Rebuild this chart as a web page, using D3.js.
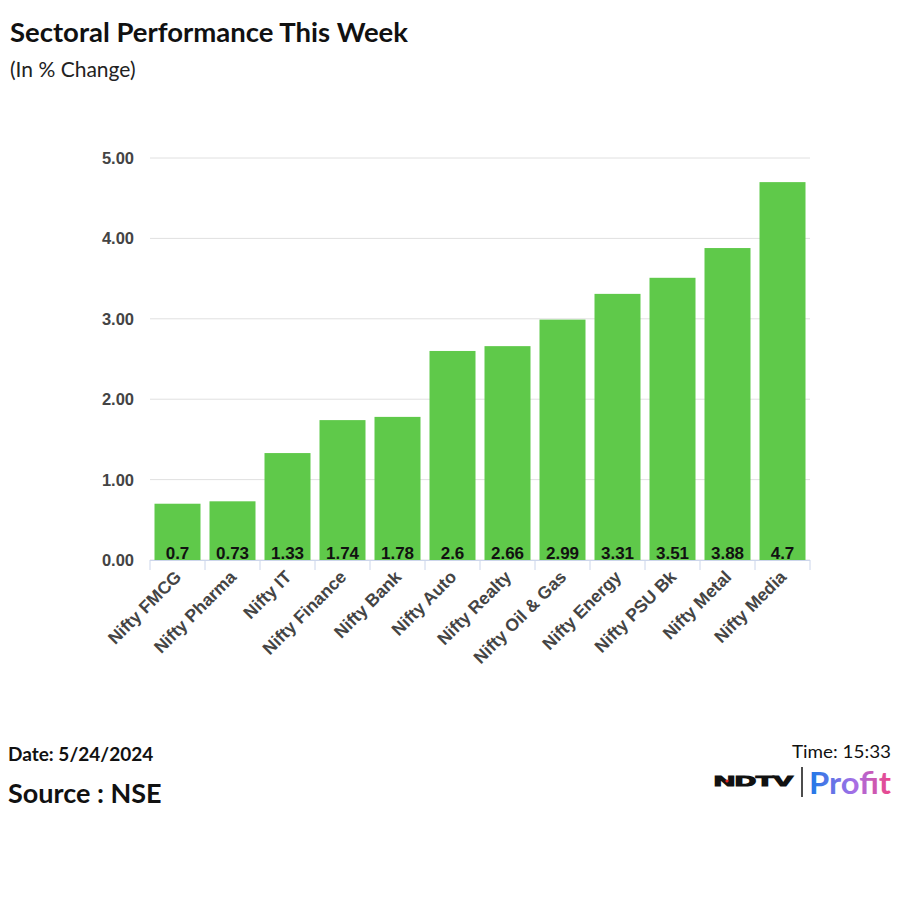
<!DOCTYPE html>
<html>
<head>
<meta charset="utf-8">
<script src="https://cdn.jsdelivr.net/npm/d3@7"></script>
<style>
  body { margin: 0; background: #fff; }
  svg { display: block; }
</style>
</head>
<body>
<div id="chart"></div>
<script>
// data
var sectors = ["Nifty FMCG", "Nifty Pharma", "Nifty IT", "Nifty Finance", "Nifty Bank", "Nifty Auto",
  "Nifty Realty", "Nifty Oil & Gas", "Nifty Energy", "Nifty PSU Bk", "Nifty Metal", "Nifty Media"];
var changes = [0.7, 0.73, 1.33, 1.74, 1.78, 2.6, 2.66, 2.99, 3.31, 3.51, 3.88, 4.7];
var yTicks = [0, 1, 2, 3, 4, 5];

var W = 900, H = 900;
var svg = d3.select("#chart").append("svg").attr("width", W).attr("height", H);

// titles
svg.append("text").attr("x", 10).attr("y", 42)
  .style("font", "bold 27.5px Lato").style("fill", "#111")
  .text("Sectoral Performance This Week");
svg.append("text").attr("x", 10).attr("y", 77)
  .style("font", "21px Lato").style("fill", "#222")
  .text("(In % Change)");

// plot area
var x = d3.scaleBand().domain(sectors).range([150, 810]).paddingInner(9 / 55).paddingOuter(4.5 / 55);
var y = d3.scaleLinear().domain([0, 5]).range([560, 158]);

// grid lines
svg.append("g").selectAll("line").data(yTicks).enter().append("line")
  .attr("x1", 150).attr("x2", 810)
  .attr("y1", function (d) { return y(d); })
  .attr("y2", function (d) { return y(d); })
  .style("stroke", "#e0e0e0").style("stroke-width", 1);

// y labels
svg.append("g").selectAll("text").data(yTicks).enter().append("text")
  .attr("x", 134).attr("y", function (d) { return y(d) + 6; })
  .attr("text-anchor", "end")
  .style("font", "bold 16.5px Arial, 'Liberation Sans'").style("fill", "#444")
  .text(function (d) { return d3.format(".2f")(d); });

// bars
svg.append("g").selectAll("rect").data(sectors).enter().append("rect")
  .attr("x", function (d) { return x(d); })
  .attr("width", x.bandwidth())
  .attr("y", function (d, i) { return y(changes[i]); })
  .attr("height", function (d, i) { return y(0) - y(changes[i]); })
  .style("fill", "#5fc94a");

// value labels inside bars
svg.append("g").selectAll("text").data(sectors).enter().append("text")
  .attr("x", function (d) { return x(d) + x.bandwidth() / 2; })
  .attr("y", 559)
  .attr("text-anchor", "middle")
  .style("font", "bold 17px Arial, 'Liberation Sans'").style("fill", "#111")
  .text(function (d, i) { return changes[i]; });

// x axis line and category ticks
var step = x.step();
var bounds = d3.range(sectors.length + 1).map(function (i) { return 150 + i * step; });
svg.append("line").attr("x1", 150).attr("x2", 810).attr("y1", 560.5).attr("y2", 560.5)
  .style("stroke", "#ccd6eb");
svg.append("g").selectAll("line").data(bounds).enter().append("line")
  .attr("x1", function (d) { return d; }).attr("x2", function (d) { return d; })
  .attr("y1", 560).attr("y2", 570)
  .style("stroke", "#ccd6eb");

// rotated category labels
svg.append("g").selectAll("text").data(sectors).enter().append("text")
  .attr("transform", function (d) {
    return "translate(" + (x(d) + x.bandwidth() / 2 + 5) + ",578) rotate(-45)";
  })
  .attr("text-anchor", "end")
  .style("font", "bold 17.5px Arial, 'Liberation Sans'").style("fill", "#444")
  .text(function (d) { return d; });

// footer
svg.append("text").attr("x", 8).attr("y", 761)
  .style("font", "bold 19px Lato").style("fill", "#111").text("Date: 5/24/2024");
svg.append("text").attr("x", 8).attr("y", 803)
  .style("font", "bold 27px Lato").style("fill", "#111").text("Source : NSE");
svg.append("text").attr("x", 891).attr("y", 758).attr("text-anchor", "end")
  .attr("textLength", 99).attr("lengthAdjust", "spacingAndGlyphs")
  .style("font", "18px Lato").style("fill", "#111").text("Time: 15:33");

// logo
var grad = svg.append("defs").append("linearGradient").attr("id", "profitGrad")
  .attr("x1", "0%").attr("x2", "100%");
grad.append("stop").attr("offset", "0%").attr("stop-color", "#1a7ae8");
grad.append("stop").attr("offset", "55%").attr("stop-color", "#a56fe6");
grad.append("stop").attr("offset", "100%").attr("stop-color", "#ef4586");
svg.append("text").attr("x", 714).attr("y", 786)
  .attr("textLength", 79).attr("lengthAdjust", "spacingAndGlyphs")
  .style("font", "900 14px Arial, 'Liberation Sans'").style("fill", "#111")
  .style("stroke", "#111").style("stroke-width", 1.2).text("NDTV");
svg.append("circle").attr("cx", 727).attr("cy", 781).attr("r", 1.6).style("fill", "#e52320");
svg.append("line").attr("x1", 802).attr("x2", 802).attr("y1", 767).attr("y2", 797)
  .style("stroke", "#111").style("stroke-width", 1.5);
svg.append("text").attr("x", 809).attr("y", 794)
  .attr("textLength", 82).attr("lengthAdjust", "spacingAndGlyphs")
  .style("font", "bold 31px Lato").style("fill", "url(#profitGrad)").text("Profit");
</script>
</body>
</html>
